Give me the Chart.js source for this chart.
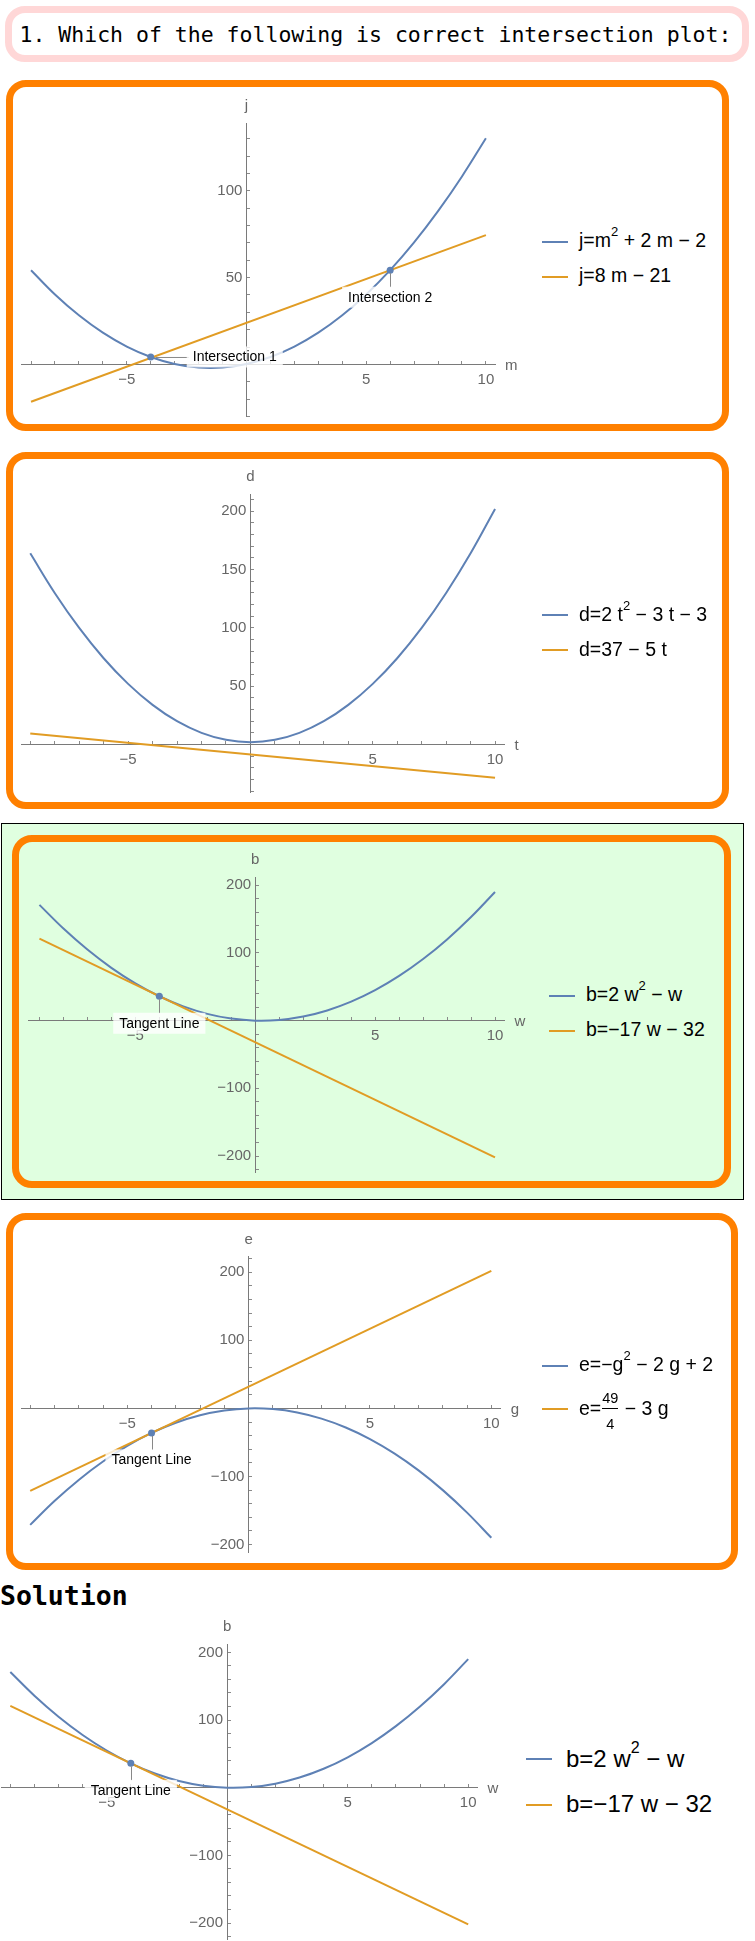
<!DOCTYPE html>
<html>
<head>
<meta charset="utf-8">
<script src="https://cdn.jsdelivr.net/npm/chart.js@4.4.1/dist/chart.umd.min.js"></script>
<style>
  html, body { margin: 0; padding: 0; background: #fff; }
  body { position: relative; width: 755px; height: 1941px; overflow: hidden; font-family: 'Liberation Sans', Arial, sans-serif; }
  .abs { position: absolute; box-sizing: border-box; }
  .title { left: 5px; top: 6px; width: 744px; height: 56px; border: 7px solid #ffd7d7; border-radius: 20px; }
  .mono { position: absolute; font-family: 'DejaVu Sans Mono', monospace; line-height: 1; white-space: pre; color: #000; }
  .box { border: 7px solid #ff8000; border-radius: 20px; }
  canvas { position: absolute; }
  .swatch { position: absolute; height: 2px; }
  .leg { position: absolute; line-height: 1; white-space: nowrap; color: #000; }
  .leg sup { font-size: 0.67em; position: relative; top: -0.85em; vertical-align: baseline; line-height: 0; }
  .frac { display: inline-block; position: relative; width: 16px; height: 0; margin: 0 1px; }
  .frac .num, .frac .den { position: absolute; left: 0; width: 100%; text-align: center; font-size: 14.5px; line-height: 14.5px; }
  .frac .num { top: -23.3px; }
  .frac .den { top: 2px; }
  .frac .bar { position: absolute; left: 0; width: 100%; height: 1px; top: -6.5px; background: #000; }
</style>
</head>
<body>
<div class="abs title"></div>
<div class="mono" style="left:19.5px; top:24px; font-size:21.5px;">1. Which of the following is correct intersection plot:</div>
<div class="abs box" style="left:6px; top:80px; width:723px; height:351px;"></div>
<div class="abs box" style="left:6px; top:452px; width:723px; height:357px;"></div>
<div class="abs" style="left:1px; top:823px; width:743px; height:377px; border:1px solid #000; background:#e0ffe0;"></div>
<div class="abs box" style="left:12px; top:835px; width:719px; height:353px;"></div>
<div class="abs box" style="left:6px; top:1213px; width:732px; height:357px;"></div>
<div class="mono" style="left:0px; top:1582.5px; font-size:26.5px; font-weight:bold;">Solution</div>
<script>
const BLUE = '#5e81b5';
const ORANGE = '#e19c24';

// shared x samples of the curves
const XS = [-9, -8, -7, -6, -5, -4, -3, -2, -1, 0, 1, 2, 3, 4, 5, 6, 7, 8, 9, 10];
const xTickLabels = [-5, 5, 10];

// plot 1 : j / m
const p1Curve = [54.3, 40.3, 28.3, 18.3, 10.3, 4.3, 0.3, -1.8, -1.8, 0.3, 4.3, 10.3, 18.3, 28.3, 40.3, 54.3, 70.3, 88.3, 108.3, 130.3];
const p1LineX = [-9, 10];
const p1LineY = [-21.5, 74.5];
const p1PointX = [-4, 6];
const p1PointY = [4.3, 54.3];
const p1Notes = ['Intersection 1', 'Intersection 2'];
const p1XRange = [-9.39, 10.38];
const p1YRange = [-30.1, 138.9];
const p1YTickLabels = [50, 100];
const p1Legend = ['j=m<sup>2</sup> + 2 m \u2212 2', 'j=8 m \u2212 21'];

// plot 2 : d / t
const p2Curve = [164, 130, 100, 74, 52, 34, 20, 10, 4, 2, 4, 10, 20, 34, 52, 74, 100, 130, 164, 202];
const p2LineX = [-9, 10];
const p2LineY = [9.5, -28.5];
const p2XRange = [-9.35, 10.39];
const p2YRange = [-41, 214.6];
const p2YTickLabels = [50, 100, 150, 200];
const p2Legend = ['d=2 t<sup>2</sup> \u2212 3 t \u2212 3', 'd=37 \u2212 5 t'];

// plot 3 (and solution) : b / w
const p3Curve = [171, 136, 105, 78, 55, 36, 21, 10, 3, 0, 1, 6, 15, 28, 45, 66, 91, 120, 153, 190];
const p3LineX = [-9, 10];
const p3LineY = [121, -202];
const p3PointX = [-4];
const p3PointY = [36];
const p3Notes = ['Tangent Line'];
const p3XRange = [-9.44, 10.4];
const p3YRange = [-224, 211.7];
const p3YTickLabels = [-200, -100, 100, 200];
const p3Legend = ['b=2 w<sup>2</sup> \u2212 w', 'b=\u221217 w \u2212 32'];

// plot 4 : e / g
const p4Curve = [-171, -136, -105, -78, -55, -36, -21, -10, -3, 0, -1, -6, -15, -28, -45, -66, -91, -120, -153, -190];
const p4LineX = [-9, 10];
const p4LineY = [-121, 202];
const p4PointX = [-4];
const p4PointY = [-36];
const p4Notes = ['Tangent Line'];
const p4XRange = [-9.35, 10.39];
const p4YRange = [-211.9, 222.8];
const p4YTickLabels = [-200, -100, 100, 200];
const p4Legend = ['e=\u2212g<sup>2</sup> \u2212 2 g + 2',
  'e=<span class="frac"><span class="num">49</span><i class="bar"></i><span class="den">4</span></span> \u2212 3 g'];

// solution
const p5XRange = [-9.37, 10.39];
const p5YRange = [-224, 212.4];

const fmt = v => (v < 0 ? '\u2212' + Math.abs(v) : String(v));
const pairs = (xs, ys) => xs.map((x, i) => ({ x, y: ys[i] }));

// axis names and callouts drawn over the chart
const mathAxes = {
  id: 'mathAxes',
  afterDatasetsDraw(chart, args, opts) {
    const { ctx, chartArea } = chart;
    const sx = chart.scales.x, sy = chart.scales.y;
    ctx.save();
    ctx.font = '15px "Liberation Sans", Arial, sans-serif';
    ctx.fillStyle = '#666';
    ctx.textBaseline = 'middle';
    ctx.textAlign = 'center';
    ctx.fillText(opts.yName, sx.getPixelForValue(0), chartArea.top - 17);
    ctx.textAlign = 'left';
    ctx.fillText(opts.xName, chartArea.right + 10, sy.getPixelForValue(0) + 1);

    ctx.font = '14px "Liberation Sans", Arial, sans-serif';
    (opts.notes || []).forEach(n => {
      const px = sx.getPixelForValue(n.x), py = sy.getPixelForValue(n.y);
      const w = ctx.measureText(n.text).width;
      let tx, ty;
      ctx.strokeStyle = '#888';
      ctx.lineWidth = 1;
      ctx.beginPath();
      if (n.side === 'right') {
        ctx.moveTo(px + 5, py + 0.5);
        ctx.lineTo(px + 38, py + 0.5);
        tx = px + 42; ty = py;
      } else {
        ctx.moveTo(Math.round(px) + 0.5, py + 3);
        ctx.lineTo(Math.round(px) + 0.5, py + 17);
        tx = px - w / 2; ty = py + 27;
      }
      ctx.stroke();
      ctx.fillStyle = 'rgba(255,255,255,0.8)';
      ctx.fillRect(tx - 6, ty - 10.5, w + 12, 21);
      ctx.fillStyle = '#000';
      ctx.textAlign = 'left';
      ctx.fillText(n.text, tx, ty + 0.5);
    });
    ctx.restore();
  }
};

function axisOpts(range, step, labels, isX) {
  return {
    type: 'linear',
    position: isX ? { y: 0 } : { x: 0 },
    min: range[0],
    max: range[1],
    bounds: 'data',
    afterFit: s => { if (isX) s.height = 0; else s.width = 0; },
    // tick marks on whole steps, not from the (padded) axis end
    afterBuildTicks: s => {
      const t = [];
      for (let v = Math.ceil(range[0] / step) * step; v <= range[1] + 1e-9; v += step) t.push({ value: v });
      s.ticks = t;
    },
    ticks: {
      autoSkip: false,
      maxRotation: 0,
      padding: isX ? 10 : 0,
      color: '#666',
      font: { family: "'Liberation Sans', Arial, sans-serif", size: 15 },
      callback: v => (labels.includes(v) ? fmt(v) + (isX ? '' : ' ') : '')
    },
    grid: { drawOnChartArea: false, drawTicks: true, tickLength: -4, tickColor: '#8a8a8a' },
    border: { display: true, color: '#7a7a7a', width: 1 }
  };
}

function makePlot(p) {
  const a = p.area;
  const cx = Math.floor(a.l) - 40, cy = Math.floor(a.t) - 40;
  const cw = Math.ceil(a.r) + 40 - cx, ch = Math.ceil(a.b) + 40 - cy;
  const cv = document.createElement('canvas');
  cv.width = cw; cv.height = ch;
  cv.style.left = cx + 'px'; cv.style.top = cy + 'px';
  cv.style.width = cw + 'px'; cv.style.height = ch + 'px';
  document.body.appendChild(cv);

  const notes = (p.ptX || []).map((x, i) => ({ x, y: p.ptY[i], text: p.notes[i], side: p.sides[i] }));

  new Chart(cv, {
    type: 'scatter',
    data: {
      datasets: [
        { label: 'points', data: pairs(p.ptX || [], p.ptY || []), pointRadius: 3.5, pointBackgroundColor: BLUE,
          pointBorderWidth: 0, showLine: false, order: 0 },
        { label: 'line', data: pairs(p.lineX, p.lineY), borderColor: ORANGE, borderWidth: 2, pointRadius: 0,
          showLine: true, order: 1 },
        { label: 'curve', data: pairs(XS, p.curve), borderColor: BLUE, borderWidth: 2, pointRadius: 0,
          showLine: true, tension: 0.4, order: 2 }
      ]
    },
    options: {
      responsive: false,
      animation: false,
      events: [],
      layout: { padding: { left: a.l - cx, top: a.t - cy, right: cx + cw - a.r, bottom: cy + ch - a.b } },
      plugins: {
        legend: { display: false },
        tooltip: { enabled: false },
        mathAxes: { xName: p.xName, yName: p.yName, notes }
      },
      scales: {
        x: axisOpts(p.xRange, 1, xTickLabels, true),
        y: axisOpts(p.yRange, p.yStep, p.yLabels, false)
      }
    },
    plugins: [mathAxes]
  });

  // legend as html so the superscripts and the fraction stay real text
  const L = p.leg;
  p.legend.forEach((html, i) => {
    const sw = document.createElement('div');
    sw.className = 'swatch';
    sw.style.left = L.sx + 'px';
    sw.style.width = L.sw + 'px';
    sw.style.top = (L.rows[i] - 1) + 'px';
    sw.style.background = i === 0 ? BLUE : ORANGE;
    document.body.appendChild(sw);
    const t = document.createElement('div');
    t.className = 'leg';
    t.style.left = L.tx + 'px';
    t.style.top = (L.rows[i] - 0.526 * L.fs) + 'px';
    t.style.fontSize = L.fs + 'px';
    t.innerHTML = html;
    document.body.appendChild(t);
  });
}

makePlot({
  area: { l: 21.7, t: 123.3, r: 495, b: 416.7 },
  xRange: p1XRange, yRange: p1YRange, yStep: 10, yLabels: p1YTickLabels,
  curve: p1Curve, lineX: p1LineX, lineY: p1LineY,
  ptX: p1PointX, ptY: p1PointY, notes: p1Notes, sides: ['right', 'below'],
  xName: 'm', yName: 'j', legend: p1Legend,
  leg: { sx: 542, sw: 26, tx: 579, fs: 19.5, rows: [241.7, 276.7] }
});

makePlot({
  area: { l: 21.7, t: 494.3, r: 504.6, b: 792.3 },
  xRange: p2XRange, yRange: p2YRange, yStep: 10, yLabels: p2YTickLabels,
  curve: p2Curve, lineX: p2LineX, lineY: p2LineY,
  xName: 't', yName: 'd', legend: p2Legend,
  leg: { sx: 542, sw: 26, tx: 579, fs: 19.5, rows: [615, 650] }
});

makePlot({
  area: { l: 28.9, t: 877.3, r: 504.6, b: 1172.3 },
  xRange: p3XRange, yRange: p3YRange, yStep: 20, yLabels: p3YTickLabels,
  curve: p3Curve, lineX: p3LineX, lineY: p3LineY,
  ptX: p3PointX, ptY: p3PointY, notes: p3Notes, sides: ['below'],
  xName: 'w', yName: 'b', legend: p3Legend,
  leg: { sx: 549, sw: 26, tx: 586, fs: 19.5, rows: [995.7, 1030.7] }
});

makePlot({
  area: { l: 21.7, t: 1256.7, r: 500.8, b: 1552.7 },
  xRange: p4XRange, yRange: p4YRange, yStep: 20, yLabels: p4YTickLabels,
  curve: p4Curve, lineX: p4LineX, lineY: p4LineY,
  ptX: p4PointX, ptY: p4PointY, notes: p4Notes, sides: ['below'],
  xName: 'g', yName: 'e', legend: p4Legend,
  leg: { sx: 542, sw: 26, tx: 579, fs: 19.5, rows: [1365.7, 1409] }
});

makePlot({
  area: { l: 1.4, t: 1644, r: 477.6, b: 1939.3 },
  xRange: p5XRange, yRange: p5YRange, yStep: 20, yLabels: p3YTickLabels,
  curve: p3Curve, lineX: p3LineX, lineY: p3LineY,
  ptX: p3PointX, ptY: p3PointY, notes: p3Notes, sides: ['below'],
  xName: 'w', yName: 'b', legend: p3Legend,
  leg: { sx: 526, sw: 26, tx: 566, fs: 24, rows: [1759.3, 1805] }
});
</script>
</body>
</html>
